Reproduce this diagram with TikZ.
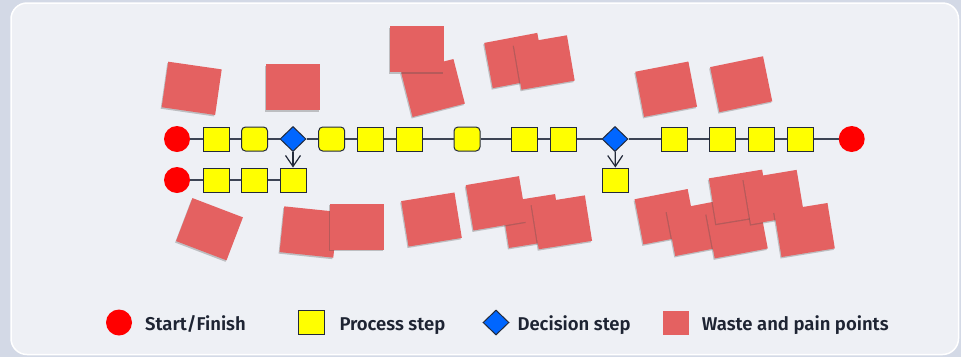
\documentclass[tikz,border=0pt]{standalone}
\usepackage{fontspec}
\setmainfont{Fira Sans}[UprightFont={* SemiBold}]
\usetikzlibrary{shapes.geometric,arrows.meta,shadows}
\definecolor{outerbg}{RGB}{211,217,230}
\definecolor{panelbg}{RGB}{238,240,245}
\definecolor{stepyellow}{RGB}{255,255,0}
\definecolor{startred}{RGB}{255,0,0}
\definecolor{decblue}{RGB}{0,102,255}
\definecolor{notered}{RGB}{228,97,97}
\definecolor{edgecol}{RGB}{35,42,58}
\definecolor{linecol}{RGB}{60,68,84}
\definecolor{txtcol}{RGB}{30,36,51}
\tikzset{
  startnode/.style={circle,fill=startred,minimum size=26pt,inner sep=0pt},
  stepbox/.style={rectangle,fill=stepyellow,draw=edgecol,line width=1pt,minimum width=26pt,minimum height=24pt,inner sep=0pt},
  roundstep/.style={stepbox,rounded corners=4pt},
  decnode/.style={diamond,fill=decblue,draw=edgecol,line width=1pt,minimum width=26pt,minimum height=25pt,inner sep=0pt},
  note/.style={rectangle,fill=notered,minimum width=54pt,minimum height=46pt,inner sep=0pt,
    drop shadow={shadow xshift=-1pt,shadow yshift=-1.5pt,opacity=0.3,fill=black!70}},
  legnote/.style={rectangle,fill=notered,minimum width=26pt,minimum height=24pt,inner sep=0pt},
  conn/.style={draw=linecol,line width=1.3pt},
  arr/.style={draw=edgecol,line width=1.2pt,-{Straight Barb[length=11pt,width=15pt,line width=1.2pt]}},
  legtext/.style={anchor=base west,text=txtcol,font=\fontsize{18.5pt}{22pt}\selectfont,inner sep=0pt}
}
\begin{document}
\begin{tikzpicture}[x=1pt,y=-1pt]
\useasboundingbox (0,0) rectangle (961,357);
\fill[outerbg] (0,0) rectangle (961,357);
\draw[fill=panelbg,draw=white,line width=1.5pt,rounded corners=16pt] (11,3) rectangle (958.5,354.5);

% sticky notes (top)
\node[note,rotate=-8.2] (n1) at (191.7,88.3) {};
\node[note] (n2) at (293.3,87.3) {};
\node[note,rotate=14.4] (n4) at (433,88) {};
\node[note] (n3) at (416.7,49.3) {};
\node[note,rotate=10.7] (n5) at (515,60.5) {};
\node[note,rotate=9.7] (n6) at (544.2,62.5) {};
\node[note,rotate=10.9] (n7) at (666.2,89.2) {};
\node[note,rotate=11.6] (n8) at (741.2,84.2) {};
% sticky notes (bottom)
\node[note,rotate=-20.9] (b1) at (209.5,229.2) {};
\node[note,rotate=-5.9] (b2) at (308.8,232) {};
\node[note] (b3) at (356.8,226.7) {};
\node[note,rotate=9.2] (b4) at (431.5,219.5) {};
\node[note,rotate=9] (b6) at (532,221) {};
\node[note,rotate=9.6] (b5) at (496.2,203.3) {};
\node[note,rotate=9] (b7) at (561.8,222.3) {};
\node[note,rotate=10.9] (c1) at (665.5,216.7) {};
\node[note,rotate=10.9] (c2) at (697.4,228.3) {};
\node[note,rotate=10.6] (c3) at (737,230.8) {};
\node[note,rotate=9.3] (c4) at (739.2,196.7) {};
\node[note,rotate=9.5] (c5) at (773.8,197) {};
\node[note,rotate=9.2] (c6) at (804.5,230) {};

% main row
\node[startnode] (m0) at (177,139) {};
\node[stepbox] (m1) at (216,139) {};
\node[roundstep] (m2) at (254.5,139) {};
\node[decnode] (m3) at (293,139) {};
\node[roundstep] (m4) at (331.7,139) {};
\node[stepbox] (m5) at (370.3,139) {};
\node[stepbox] (m6) at (409,139) {};
\node[roundstep] (m7) at (467,139) {};
\node[stepbox] (m8) at (524.7,139) {};
\node[stepbox] (m9) at (563,139) {};
\node[decnode] (m10) at (615,139) {};
\node[stepbox] (m11) at (674,139) {};
\node[stepbox] (m12) at (722.5,139) {};
\node[stepbox] (m13) at (761.3,139) {};
\node[stepbox] (m14) at (800,139) {};
\node[startnode] (m15) at (851.7,139) {};
% second row
\node[startnode] (s0) at (177,180) {};
\node[stepbox] (s1) at (216,180) {};
\node[stepbox] (s2) at (254.5,180) {};
\node[stepbox] (s3) at (293,180) {};
\node[stepbox] (t1) at (615.5,180) {};

\foreach \a/\b in {m0/m1,m1/m2,m2/m3,m3/m4,m4/m5,m5/m6,m6/m7,m7/m8,m8/m9,m9/m10,m10/m11,m11/m12,m12/m13,m13/m14,m14/m15,s0/s1,s1/s2,s2/s3}
  \draw[conn] (\a) -- (\b);
\draw[arr] (m3) -- (s3);
\draw[arr] (m10) -- (t1);

% legend
\node[startnode] (l1) at (119,322.5) {};
\node[legtext] (l1t) at (145,330.5) {Start/Finish};
\node[stepbox] (l2) at (311.7,322.5) {};
\node[legtext] (l2t) at (339.3,330.5) {Process step};
\node[decnode] (l3) at (496,322.5) {};
\node[legtext] (l3t) at (517.3,330.5) {Decision step};
\node[legnote] (l4) at (676,323) {};
\node[legtext] (l4t) at (701.7,330.5) {Waste and pain points};
\end{tikzpicture}
\end{document}
